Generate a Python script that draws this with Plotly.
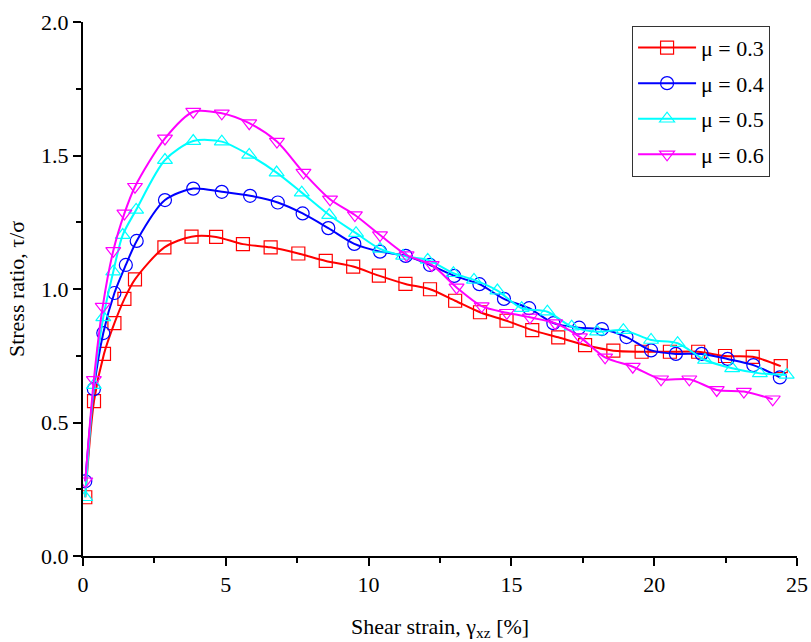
import plotly.graph_objects as go

x_03 = [0.08, 0.385, 0.735, 1.1, 1.45, 1.82, 2.85, 3.8, 4.66, 5.6, 6.57, 7.54, 8.5, 9.46, 10.36, 11.29, 12.15, 13.03, 13.9, 14.83, 15.73, 16.64, 17.58, 18.57, 19.56, 20.55, 21.54, 22.48, 23.45, 24.43]
y_03 = [0.22, 0.58, 0.757, 0.872, 0.963, 1.036, 1.156, 1.196, 1.195, 1.168, 1.156, 1.133, 1.105, 1.084, 1.05, 1.019, 0.999, 0.956, 0.913, 0.881, 0.846, 0.819, 0.79, 0.769, 0.765, 0.765, 0.765, 0.749, 0.746, 0.711]

x_04 = [0.08, 0.38, 0.71, 1.1, 1.5, 1.88, 2.87, 3.86, 4.86, 5.85, 6.82, 7.69, 8.59, 9.5, 10.4, 11.3, 12.15, 13.0, 13.88, 14.74, 15.62, 16.47, 17.37, 18.17, 19.03, 19.89, 20.76, 21.66, 22.57, 23.47, 24.4]
y_04 = [0.28, 0.625, 0.835, 0.985, 1.09, 1.18, 1.333, 1.376, 1.364, 1.349, 1.324, 1.283, 1.228, 1.169, 1.14, 1.124, 1.09, 1.049, 1.018, 0.963, 0.928, 0.872, 0.855, 0.85, 0.82, 0.77, 0.757, 0.757, 0.738, 0.715, 0.669]

x_05 = [0.08, 0.38, 0.71, 1.06, 1.39, 1.86, 2.87, 3.86, 4.86, 5.82, 6.78, 7.66, 8.62, 9.56, 10.4, 11.21, 12.07, 12.97, 13.69, 14.51, 15.36, 16.26, 17.11, 18.0, 18.92, 19.89, 20.82, 21.78, 22.73, 23.7, 24.64]
y_05 = [0.22, 0.64, 0.894, 1.065, 1.202, 1.296, 1.483, 1.554, 1.552, 1.502, 1.436, 1.361, 1.277, 1.209, 1.15, 1.124, 1.109, 1.059, 1.034, 0.994, 0.928, 0.915, 0.859, 0.84, 0.846, 0.809, 0.797, 0.734, 0.703, 0.684, 0.678]

x_06 = [0.08, 0.38, 0.69, 1.06, 1.45, 1.82, 2.87, 3.86, 4.86, 5.82, 6.79, 7.72, 8.65, 9.52, 10.4, 11.33, 12.21, 13.08, 13.96, 14.84, 15.65, 16.53, 17.4, 18.28, 19.25, 20.24, 21.23, 22.19, 23.14, 24.15]
y_06 = [0.28, 0.66, 0.934, 1.143, 1.283, 1.383, 1.564, 1.664, 1.658, 1.621, 1.552, 1.436, 1.336, 1.277, 1.202, 1.127, 1.09, 1.006, 0.936, 0.911, 0.894, 0.872, 0.82, 0.744, 0.709, 0.662, 0.662, 0.622, 0.616, 0.587]

series = [
    ("μ = 0.3", x_03, y_03, "#ff0000", "square-open"),
    ("μ = 0.4", x_04, y_04, "#0000ff", "circle-open"),
    ("μ = 0.5", x_05, y_05, "#00ffff", "triangle-up-open"),
    ("μ = 0.6", x_06, y_06, "#ff00ff", "triangle-down-open"),
]

FONT = "Liberation Serif"

fig = go.Figure()
for i, (name, xs, ys, col, sym) in enumerate(series):
    fig.add_trace(go.Scatter(
        x=xs, y=ys, name=name, mode="lines+markers",
        legendgroup=f"g{i}",
        line=dict(color=col, width=2, shape="spline", smoothing=0.8),
        marker=dict(symbol=sym, size=13, color=col, line=dict(width=1.2, color=col)),
    ))

fig.update_layout(
    width=811, height=642,
    margin=dict(l=83, r=14, t=22, b=86),
    plot_bgcolor="white", paper_bgcolor="white",
    font=dict(family=FONT, size=20, color="black"),
    showlegend=True,
    legend=dict(
        x=0.769, y=0.993, xanchor="left", yanchor="top",
        bordercolor="#333333", borderwidth=1, bgcolor="white",
        font=dict(family=FONT, size=22, color="black"),
        traceorder="grouped", tracegroupgap=4,
        itemwidth=58,
    ),
    xaxis=dict(
        range=[0, 25], dtick=5, tick0=0, showgrid=False, zeroline=False, automargin=False,
        showline=True, linecolor="black", linewidth=2,
        ticks="outside", ticklen=8, tickwidth=2, tickcolor="black",
        minor=dict(ticks="outside", dtick=2.5, ticklen=5, tickwidth=2, tickcolor="black"),
        tickfont=dict(family=FONT, size=22),
        title=dict(text="Shear strain, γ<sub>xz</sub> [%]", font=dict(family=FONT, size=22), standoff=22),
    ),
    yaxis=dict(
        range=[0, 2.0], dtick=0.5, tick0=0, tickformat=".1f", showgrid=False, zeroline=False, automargin=False,
        showline=True, linecolor="black", linewidth=2,
        ticks="outside", ticklen=8, tickwidth=2, tickcolor="black",
        minor=dict(ticks="outside", dtick=0.25, ticklen=5, tickwidth=2, tickcolor="black"),
        tickfont=dict(family=FONT, size=22),
        title=dict(text="Stress ratio, τ/σ", font=dict(family=FONT, size=22), standoff=10),
    ),
)

fig.write_html("out.html")
